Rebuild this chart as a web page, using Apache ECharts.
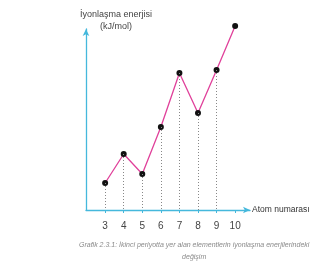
<!DOCTYPE html>
<html>
<head>
<meta charset="utf-8">
<script src="https://cdn.jsdelivr.net/npm/echarts@6/dist/echarts.min.js"></script>
<style>
    html, body { margin: 0; padding: 0; background: #fff; }
    #main { width: 316px; height: 273px; }
</style>
</head>
<body>
<div id="main"></div>
<script type="text/javascript">
// atom numbers (x) and read-off ionisation energy heights (arbitrary units)
var atomNumbers = [3, 4, 5, 6, 7, 8, 9, 10];
var energies = [27, 56, 36, 83, 137, 97, 140, 184];
var tickLabels = ['3', '4', '5', '6', '7', '8', '9', '10'];

var axisColor = '#45b8dc';
var font = '"Liberation Sans", Arial, sans-serif';

var points = atomNumbers.map(function (n, i) { return [n, energies[i]]; });
var dropLines = atomNumbers.map(function (n, i) {
    return [{ coord: [n, energies[i]] }, { coord: [n, 0] }];
});

var myChart = echarts.init(document.getElementById('main'));
var option = {
    animation: false,
    grid: { left: 86, right: 66, top: 29, bottom: 63 },
    xAxis: {
        type: 'value',
        min: 1.97,
        max: 10.8,
        splitLine: { show: false },
        axisLine: {
            lineStyle: { color: axisColor, width: 1.3 },
            symbol: ['none', 'arrow'],
            symbolSize: [5, 7]
        },
        axisTick: {
            show: true,
            customValues: atomNumbers,
            length: 3,
            lineStyle: { color: axisColor }
        },
        axisLabel: {
            customValues: atomNumbers,
            formatter: function (v) { return tickLabels[atomNumbers.indexOf(v)] || ''; },
            color: '#444',
            fontSize: 10,
            fontFamily: font,
            margin: 11
        },
        name: 'Atom numarası',
        nameLocation: 'end',
        nameGap: 2,
        nameTextStyle: { color: '#333', fontSize: 8.5, fontFamily: font }
    },
    yAxis: {
        type: 'value',
        min: 0,
        max: 181,
        splitLine: { show: false },
        axisLabel: { show: false },
        axisTick: { show: false },
        axisLine: {
            show: true,
            lineStyle: { color: axisColor, width: 1.3 },
            symbol: ['none', 'arrow'],
            symbolSize: [5, 7]
        }
    },
    graphic: [
        {
            type: 'text', left: 80, top: 9,
            style: {
                text: 'İyonlaşma enerjisi\n(kJ/mol)',
                textAlign: 'center', x: 34,
                fill: '#444', fontSize: 9, lineHeight: 12, fontFamily: font
            }
        },
        {
            type: 'text', left: 79, top: 239,
            style: {
                text: 'Grafik 2.3.1: İkinci periyotta yer alan elementlerin iyonlaşma enerjilerindeki\ndeğişim',
                textAlign: 'center', x: 116,
                fill: '#8a8a8a', fontSize: 7, lineHeight: 12, fontStyle: 'italic', fontFamily: font
            }
        }
    ],
    series: [{
        type: 'line',
        data: points,
        clip: false,
        symbol: 'circle',
        symbolSize: 6,
        itemStyle: { color: '#111' },
        lineStyle: { color: '#e0409a', width: 1.3 },
        markLine: {
            silent: true,
            symbol: ['none', 'none'],
            label: { show: false },
            lineStyle: { color: '#888', type: [1, 2], width: 1 },
            data: dropLines
        },
        z: 3
    }]
};
myChart.setOption(option);
</script>
</body>
</html>
